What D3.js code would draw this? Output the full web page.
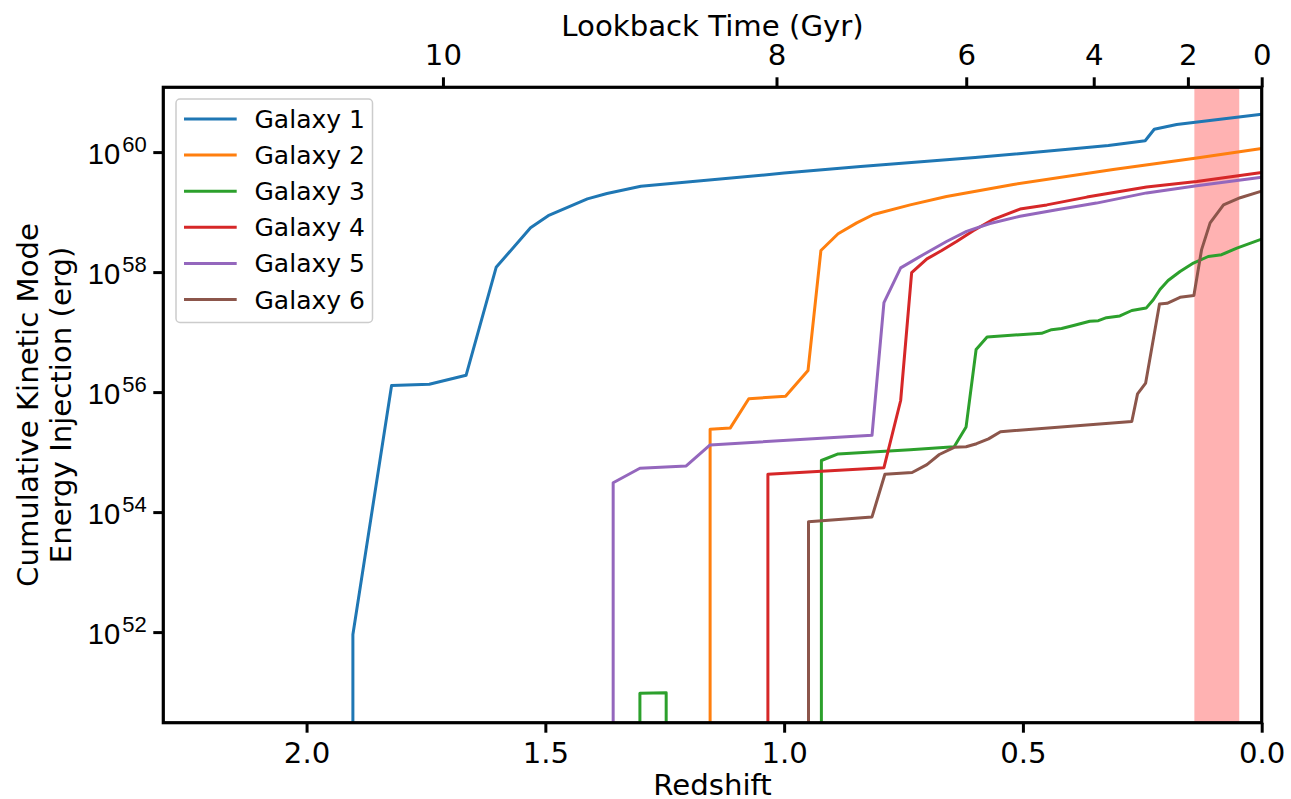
<!DOCTYPE html>
<html>
<head>
<meta charset="utf-8">
<script src="https://cdn.jsdelivr.net/npm/d3@7"></script>
<style>
  html, body { margin: 0; padding: 0; background: #ffffff; }
  svg { display: block; font-family: "DejaVu Sans", sans-serif; }
</style>
</head>
<body>
<svg id="chart" width="1291" height="799"></svg>
<script>
// ---- data: [redshift, log10(cumulative kinetic energy / erg)]; null = nothing injected yet ----
const galaxyNames = ["Galaxy 1", "Galaxy 2", "Galaxy 3", "Galaxy 4", "Galaxy 5", "Galaxy 6"];
const galaxyColors = ["#1f77b4", "#ff7f0e", "#2ca02c", "#d62728", "#9467bd", "#8c564b"];

const galaxy1 = [[1.903, null], [1.903, 51.96], [1.822, 56.11], [1.743, 56.13], [1.666, 56.28],
  [1.603, 58.08], [1.531, 58.74], [1.494, 58.94], [1.412, 59.22], [1.371, 59.31], [1.300, 59.43],
  [1.000, 59.65], [0.840, 59.76], [0.600, 59.91], [0.400, 60.05], [0.321, 60.11], [0.244, 60.19],
  [0.225, 60.38], [0.178, 60.46], [0.000, 60.63]];
const galaxy2 = [[1.155, null], [1.155, 55.38], [1.113, 55.40], [1.074, 55.89], [0.997, 55.93],
  [0.950, 56.36], [0.923, 58.36], [0.887, 58.64], [0.848, 58.82], [0.813, 58.96], [0.736, 59.12],
  [0.660, 59.26], [0.520, 59.46], [0.311, 59.71], [0.136, 59.90], [0.000, 60.06]];
const galaxy3 = [[1.302, null], [1.302, 50.98], [1.247, 50.99], [1.247, null], [0.922, null],
  [0.922, 54.86], [0.887, 54.97], [0.736, 55.04], [0.644, 55.09], [0.619, 55.42], [0.598, 56.71],
  [0.575, 56.92], [0.461, 56.98], [0.440, 57.04], [0.419, 57.06], [0.394, 57.11], [0.360, 57.18],
  [0.342, 57.19], [0.325, 57.24], [0.297, 57.27], [0.272, 57.36], [0.242, 57.40], [0.227, 57.54],
  [0.213, 57.71], [0.196, 57.86], [0.171, 58.01], [0.143, 58.15], [0.112, 58.26], [0.084, 58.29],
  [0.052, 58.40], [0.000, 58.55]];
const galaxy4 = [[1.034, null], [1.034, 54.63], [0.791, 54.74], [0.756, 55.86], [0.733, 57.99],
  [0.701, 58.22], [0.670, 58.36], [0.639, 58.51], [0.604, 58.69], [0.562, 58.88], [0.506, 59.05],
  [0.450, 59.12], [0.366, 59.25], [0.241, 59.42], [0.136, 59.51], [0.000, 59.66]];
const galaxy5 = [[1.358, null], [1.358, 54.49], [1.302, 54.73], [1.205, 54.77], [1.155, 55.12],
  [0.816, 55.28], [0.791, 57.49], [0.756, 58.07], [0.709, 58.29], [0.660, 58.51], [0.618, 58.68],
  [0.569, 58.81], [0.506, 58.93], [0.429, 59.04], [0.346, 59.15], [0.241, 59.32], [0.136, 59.44],
  [0.000, 59.58]];
const galaxy6 = [[0.949, null], [0.949, 53.84], [0.816, 53.92], [0.789, 54.63], [0.732, 54.66],
  [0.701, 54.79], [0.675, 54.96], [0.644, 55.08], [0.619, 55.09], [0.597, 55.14], [0.572, 55.22],
  [0.547, 55.34], [0.272, 55.51], [0.260, 55.97], [0.243, 56.15], [0.214, 57.47], [0.198, 57.48],
  [0.171, 57.58], [0.142, 57.61], [0.126, 58.37], [0.108, 58.82], [0.080, 59.12], [0.045, 59.24],
  [0.000, 59.35]];
const galaxySeries = [galaxy1, galaxy2, galaxy3, galaxy4, galaxy5, galaxy6];

// shaded redshift window
const highlightRedshift = [0.141, 0.047];

// axis ranges and ticks
const redshiftRange = [2.3, 0];
const log10EnergyRange = [50.49, 61.08];
const redshiftTicks = [2.0, 1.5, 1.0, 0.5, 0.0];
const lookbackTicks = [10, 8, 6, 4, 2, 0];
const energyTickExponents = [52, 54, 56, 58, 60];

// flat LCDM (Planck 2015) used for the lookback-time axis
const cosmology = { H0: 67.74, Om: 0.3089 };

// ---- cosmology helpers ----
function lookbackGyr(z) {
  const hubbleTime = 977.792 / cosmology.H0;
  const OL = 1 - cosmology.Om;
  const f = zz => 1 / ((1 + zz) * Math.sqrt(cosmology.Om * Math.pow(1 + zz, 3) + OL));
  const n = 400, h = z / n;
  let s = f(0) + f(z);
  for (let i = 1; i < n; i++) s += (i % 2 ? 4 : 2) * f(i * h);
  return hubbleTime * s * h / 3;
}
function redshiftAtLookback(t) {
  if (t <= 0) return 0;
  let lo = 0, hi = 10;
  for (let i = 0; i < 60; i++) {
    const mid = (lo + hi) / 2;
    if (lookbackGyr(mid) < t) lo = mid; else hi = mid;
  }
  return (lo + hi) / 2;
}

// ---- layout ----
const box = { left: 163.3, top: 87.3, right: 1261.7, bottom: 722.7 };
const tickFont = 29.2, supFont = 22, labelFont = 29.2, legendFont = 25;

const svg = d3.select("#chart");
const x = d3.scaleLinear().domain(redshiftRange).range([box.left, box.right]);
const y = d3.scaleLog()
  .domain(log10EnergyRange.map(v => Math.pow(10, v)))
  .range([box.bottom, box.top]);

svg.append("defs").append("clipPath").attr("id", "plot-clip")
  .append("rect")
  .attr("x", box.left).attr("y", box.top)
  .attr("width", box.right - box.left).attr("height", box.bottom - box.top);

// shaded window
svg.append("rect")
  .attr("x", x(highlightRedshift[0]))
  .attr("y", box.top)
  .attr("width", x(highlightRedshift[1]) - x(highlightRedshift[0]))
  .attr("height", box.bottom - box.top)
  .attr("fill", "#ff0000").attr("fill-opacity", 0.3);

// cumulative energy curves; zero energy sits far below the log axis and is clipped
const zeroEnergy = 1e-300;
const line = d3.line()
  .x(d => x(d[0]))
  .y(d => y(d[1] === null ? zeroEnergy : Math.pow(10, d[1])));

svg.append("g").attr("clip-path", "url(#plot-clip)")
  .selectAll("path")
  .data(galaxySeries)
  .join("path")
  .attr("d", line)
  .attr("fill", "none")
  .attr("stroke", (d, i) => galaxyColors[i])
  .attr("stroke-width", 3)
  .attr("stroke-linejoin", "round")
  .attr("stroke-linecap", "butt");

// ---- axes ----
function styleAxis(g) {
  g.select(".domain").remove();
  g.selectAll(".tick line").attr("stroke", "#000").attr("stroke-width", 3);
  g.selectAll(".tick text")
    .attr("fill", "#000")
    .style("font-family", "'DejaVu Sans', sans-serif")
    .style("font-size", tickFont + "px");
}

const xAxis = svg.append("g")
  .attr("transform", `translate(0,${box.bottom})`)
  .call(d3.axisBottom(x).tickValues(redshiftTicks).tickFormat(d3.format(".1f"))
    .tickSize(10).tickSizeOuter(0))
  .call(styleAxis);
xAxis.selectAll(".tick text").attr("y", 0).attr("dy", 0).attr("transform", "translate(0,39.8)");

const topAxis = svg.append("g")
  .attr("transform", `translate(0,${box.top})`)
  .call(d3.axisTop(x)
    .tickValues(lookbackTicks.map(redshiftAtLookback))
    .tickFormat((d, i) => String(lookbackTicks[i]))
    .tickSize(10).tickSizeOuter(0))
  .call(styleAxis);
topAxis.selectAll(".tick text").attr("y", 0).attr("dy", 0).attr("transform", "translate(0,-22.3)");

const yAxis = svg.append("g")
  .attr("transform", `translate(${box.left},0)`)
  .call(d3.axisLeft(y)
    .tickValues(energyTickExponents.map(e => Math.pow(10, e)))
    .tickFormat(() => "")
    .tickSize(10).tickSizeOuter(0))
  .call(styleAxis);
yAxis.selectAll(".tick text").remove();
yAxis.selectAll(".tick").each(function (d, i) {
  const t = d3.select(this).append("text")
    .attr("x", -16.5).attr("y", 11)
    .attr("text-anchor", "end")
    .attr("fill", "#000")
    .style("font-size", tickFont + "px");
  t.append("tspan").text("10");
  t.append("tspan").attr("dx", 2).attr("dy", -11.7).style("font-size", supFont + "px")
    .text(String(energyTickExponents[i]));
});

// spines on top of the curves
svg.append("rect")
  .attr("x", box.left).attr("y", box.top)
  .attr("width", box.right - box.left).attr("height", box.bottom - box.top)
  .attr("fill", "none").attr("stroke", "#000").attr("stroke-width", 3.2);

// axis titles
const midX = (box.left + box.right) / 2;
svg.append("text").attr("x", midX).attr("y", 795).attr("text-anchor", "middle")
  .style("font-size", labelFont + "px").text("Redshift");
svg.append("text").attr("x", midX).attr("y", 35.5).attr("text-anchor", "middle")
  .style("font-size", labelFont + "px").text("Lookback Time (Gyr)");
const midY = (box.top + box.bottom) / 2;
const yTitle = svg.append("text")
  .attr("transform", `translate(0,${midY}) rotate(-90)`)
  .attr("text-anchor", "middle")
  .style("font-size", labelFont + "px");
yTitle.append("tspan").attr("x", 0).attr("y", 38.3).text("Cumulative Kinetic Mode");
yTitle.append("tspan").attr("x", 0).attr("y", 70.7).text("Energy Injection (erg)");

// ---- legend ----
const legend = svg.append("g");
legend.append("rect")
  .attr("x", 176).attr("y", 99).attr("width", 196.5).attr("height", 223.5)
  .attr("rx", 4).attr("ry", 4)
  .attr("fill", "#ffffff").attr("fill-opacity", 0.8)
  .attr("stroke", "#cccccc").attr("stroke-width", 1.5);
const rows = legend.selectAll("g.row").data(galaxyNames).join("g")
  .attr("class", "row")
  .attr("transform", (d, i) => `translate(0,${119 + i * 36.1})`);
rows.append("line")
  .attr("x1", 184).attr("x2", 236.7).attr("y1", 0).attr("y2", 0)
  .attr("stroke", (d, i) => galaxyColors[i]).attr("stroke-width", 3);
rows.append("text")
  .attr("x", 254.5).attr("y", 9)
  .style("font-size", legendFont + "px")
  .text(d => d);
</script>
</body>
</html>
